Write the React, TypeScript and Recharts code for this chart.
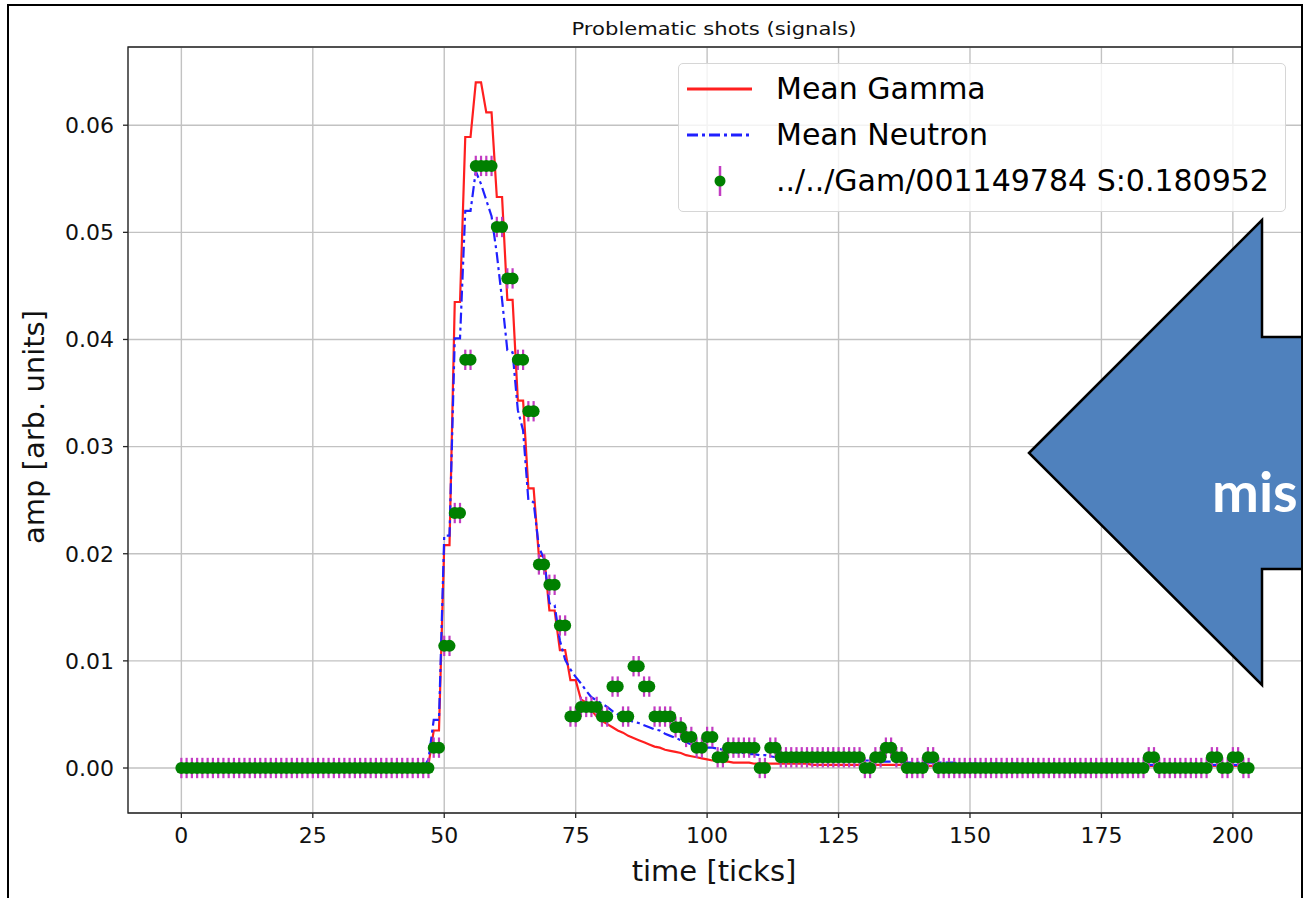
import {
  CartesianGrid,
  ComposedChart,
  ErrorBar,
  Label,
  Legend,
  Line,
  ReferenceArea,
  Scatter,
  XAxis,
  YAxis,
} from 'recharts';

// time axis is the sample index 0..203
const TIME_TICKS = [0, 25, 50, 75, 100, 125, 150, 175, 200];
const AMP_TICKS = [0, 0.01, 0.02, 0.03, 0.04, 0.05, 0.06];

const MEAN_GAMMA = [
  0, 0, 0, 0, 0, 0, 0, 0, 0, 0, 0, 0,
  0, 0, 0, 0, 0, 0, 0, 0, 0, 0, 0, 0,
  0, 0, 0, 0, 0, 0, 0, 0, 0, 0, 0, 0,
  0, 0, 0, 0, 0, 0, 0, 0, 0, 0, 0, 0.0003,
  0.0035, 0.0035, 0.0208, 0.0208, 0.0435, 0.0435, 0.0589, 0.0589, 0.064, 0.064, 0.0612, 0.0612,
  0.0533, 0.0533, 0.0437, 0.0437, 0.0343, 0.0343, 0.0261, 0.0261, 0.0198, 0.0198, 0.0147, 0.0147,
  0.011, 0.011, 0.0082, 0.0082, 0.0064, 0.0061, 0.0054, 0.0048, 0.0044, 0.0041, 0.0038, 0.0035,
  0.0033, 0.003, 0.0028, 0.0026, 0.0024, 0.0022, 0.002, 0.0019, 0.0017, 0.0016, 0.0015, 0.0014,
  0.0012, 0.0011, 0.001, 0.0009, 0.0008, 0.0007, 0.0007, 0.0006, 0.0006, 0.0005, 0.0005, 0.0005,
  0.0005, 0.0004, 0.0004, 0.0004, 0.0004, 0.0004, 0.0004, 0.0004, 0.0004, 0.0004, 0.0004, 0.0004,
  0.0003, 0.0003, 0.0003, 0.0003, 0.0003, 0.0003, 0.0003, 0.0003, 0.0003, 0.0003, 0.0003, 0.0003,
  0.0003, 0.0003, 0.0003, 0.0003, 0.0003, 0.0003, 0.0003, 0.0003, 0.0002, 0.0002, 0.0002, 0.0002,
  0.0002, 0.0002, 0.0002, 0.0002, 0.0002, 0.0002, 0.0002, 0.0002, 0.0002, 0.0002, 0.0002, 0.0002,
  0.0002, 0.0002, 0.0002, 0.0002, 0.0002, 0.0002, 0.0002, 0.0002, 0.0002, 0.0002, 0.0002, 0.0002,
  0.0002, 0.0002, 0.0002, 0.0002, 0.0002, 0.0002, 0.0002, 0.0002, 0.0002, 0.0002, 0.0002, 0.0002,
  0.0002, 0.0002, 0.0002, 0.0002, 0.0002, 0.0002, 0.0002, 0.0002, 0.0002, 0.0002, 0.0002, 0.0002,
  0.0002, 0.0002, 0.0002, 0.0002, 0.0002, 0.0002, 0.0002, 0.0002, 0.0002, 0.0002, 0.0002, 0.0002,
];

const MEAN_NEUTRON = [
  0, 0, 0, 0, 0, 0, 0, 0, 0, 0, 0, 0,
  0, 0, 0, 0, 0, 0, 0, 0, 0, 0, 0, 0,
  0, 0, 0, 0, 0, 0, 0, 0, 0, 0, 0, 0,
  0, 0, 0, 0, 0, 0, 0, 0, 0, 0, 0, 0.0008,
  0.0045, 0.0045, 0.0217, 0.0217, 0.0401, 0.0401, 0.052, 0.052, 0.0557, 0.0545, 0.053, 0.0515,
  0.048, 0.0437, 0.039, 0.0388, 0.0334, 0.0315, 0.025, 0.0248, 0.0206, 0.0195, 0.0154, 0.0152,
  0.0119, 0.0101, 0.0092, 0.0085, 0.0079, 0.0072, 0.0066, 0.0063, 0.006, 0.0057, 0.0053, 0.005,
  0.0048, 0.0045, 0.0043, 0.0042, 0.004, 0.0038, 0.0036, 0.0035, 0.0032, 0.003, 0.0028, 0.0026,
  0.0024, 0.0022, 0.0021, 0.002, 0.0019, 0.0019, 0.0018, 0.0017, 0.0016, 0.0015, 0.0014, 0.0014,
  0.0013, 0.0013, 0.0012, 0.0012, 0.0011, 0.001, 0.0009, 0.0009, 0.0009, 0.0008, 0.0008, 0.0008,
  0.0007, 0.0007, 0.0007, 0.0007, 0.0007, 0.0007, 0.0007, 0.0007, 0.0007, 0.0007, 0.0007, 0.0007,
  0.0006, 0.0006, 0.0006, 0.0006, 0.0006, 0.0006, 0.0005, 0.0005, 0.0005, 0.0005, 0.0005, 0.0005,
  0.0005, 0.0005, 0.0005, 0.0005, 0.0004, 0.0004, 0.0004, 0.0004, 0.0004, 0.0004, 0.0004, 0.0004,
  0.0004, 0.0004, 0.0004, 0.0004, 0.0003, 0.0003, 0.0003, 0.0003, 0.0003, 0.0003, 0.0003, 0.0003,
  0.0003, 0.0003, 0.0003, 0.0003, 0.0003, 0.0003, 0.0003, 0.0003, 0.0003, 0.0003, 0.0003, 0.0003,
  0.0003, 0.0003, 0.0003, 0.0003, 0.0003, 0.0003, 0.0003, 0.0003, 0.0003, 0.0003, 0.0003, 0.0003,
  0.0003, 0.0003, 0.0003, 0.0003, 0.0003, 0.0003, 0.0003, 0.0003, 0.0003, 0.0003, 0.0003, 0.0003,
];

// shot 001149784, digitised in steps of ~0.00095
const SHOT = [
  0, 0, 0, 0, 0, 0, 0, 0, 0, 0, 0, 0,
  0, 0, 0, 0, 0, 0, 0, 0, 0, 0, 0, 0,
  0, 0, 0, 0, 0, 0, 0, 0, 0, 0, 0, 0,
  0, 0, 0, 0, 0, 0, 0, 0, 0, 0, 0, 0,
  0.0019, 0.0019, 0.0114, 0.0114, 0.0238, 0.0238, 0.0381, 0.0381, 0.0562, 0.0562, 0.0562, 0.0562,
  0.0505, 0.0505, 0.0457, 0.0457, 0.0381, 0.0381, 0.0333, 0.0333, 0.019, 0.019, 0.0171, 0.0171,
  0.0133, 0.0133, 0.0048, 0.0048, 0.0057, 0.0057, 0.0057, 0.0057, 0.0048, 0.0048, 0.0076, 0.0076,
  0.0048, 0.0048, 0.0095, 0.0095, 0.0076, 0.0076, 0.0048, 0.0048, 0.0048, 0.0048, 0.0038, 0.0038,
  0.0029, 0.0029, 0.0019, 0.0019, 0.0029, 0.0029, 0.001, 0.001, 0.0019, 0.0019, 0.0019, 0.0019,
  0.0019, 0.0019, 0, 0, 0.0019, 0.0019, 0.001, 0.001, 0.001, 0.001, 0.001, 0.001,
  0.001, 0.001, 0.001, 0.001, 0.001, 0.001, 0.001, 0.001, 0.001, 0.001, 0, 0,
  0.001, 0.001, 0.0019, 0.0019, 0.001, 0.001, 0, 0, 0, 0, 0.001, 0.001,
  0, 0, 0, 0, 0, 0, 0, 0, 0, 0, 0, 0,
  0, 0, 0, 0, 0, 0, 0, 0, 0, 0, 0, 0,
  0, 0, 0, 0, 0, 0, 0, 0, 0, 0, 0, 0,
  0, 0, 0, 0, 0.001, 0.001, 0, 0, 0, 0, 0, 0,
  0, 0, 0, 0, 0.001, 0.001, 0, 0, 0.001, 0.001, 0, 0,
];
const SHOT_ERR = 0.00095;

const SERIES_NAMES = ['Mean Gamma', 'Mean Neutron', '../../Gam/001149784 S:0.180952'];

const GAMMA_COLOR = '#ff1f1f';
const NEUTRON_COLOR = '#2020ff';
const SHOT_COLOR = '#008000';
const ERR_COLOR = '#c23cc2';
const FONT = '"DejaVu Sans", sans-serif';

const rows = SHOT.map((shot, t) => ({
  t,
  gamma: MEAN_GAMMA[t],
  neutron: MEAN_NEUTRON[t],
  shot,
  err: SHOT_ERR,
}));

const X_DOMAIN: [number, number] = [-10.15, 213.15];
const Y_DOMAIN: [number, number] = [-0.0042, 0.0673];

function ShotDot(props: any) {
  if (props.cx == null || props.cy == null) return null;
  return <circle cx={props.cx} cy={props.cy} r={6} fill={SHOT_COLOR} />;
}

function LegendBox() {
  const handles = [
    <line key="g" x1={8} y1={23} x2={73} y2={23} stroke={GAMMA_COLOR} strokeWidth={3} />,
    <line
      key="n"
      x1={8}
      y1={23}
      x2={73}
      y2={23}
      stroke={NEUTRON_COLOR}
      strokeWidth={3}
      strokeDasharray="11 4 3 4"
    />,
    <g key="s">
      <line x1={41} y1={8} x2={41} y2={38} stroke={ERR_COLOR} strokeWidth={2.5} />
      <circle cx={41} cy={23} r={5.5} fill={SHOT_COLOR} />
    </g>,
  ];
  return (
    <div
      style={{
        boxSizing: 'border-box',
        width: 608,
        height: 149,
        padding: '2px 0 9px 0',
        background: 'rgba(255,255,255,0.8)',
        border: '1.5px solid #d6d6d6',
        borderRadius: 5,
        fontFamily: FONT,
        fontSize: 30,
        color: '#000',
      }}
    >
      {SERIES_NAMES.map((name, i) => (
        <div key={name} style={{ display: 'flex', alignItems: 'center', height: 46 }}>
          <svg width={97} height={46} style={{ flex: 'none' }}>
            {handles[i]}
          </svg>
          <span style={{ lineHeight: '46px', whiteSpace: 'nowrap' }}>{name}</span>
        </div>
      ))}
    </div>
  );
}

export default function App() {
  return (
    <div
      style={{
        position: 'absolute',
        left: 0,
        top: 0,
        width: 1303,
        height: 898,
        overflow: 'hidden',
        background: '#fff',
      }}
    >
      <ComposedChart
        width={1303}
        height={898}
        data={rows}
        margin={{ top: 47, right: 1, bottom: 35, left: 68 }}
      >
        <CartesianGrid stroke="#c2c2c2" strokeWidth={1.4} />
        <XAxis
          type="number"
          dataKey="t"
          domain={X_DOMAIN}
          allowDataOverflow
          ticks={TIME_TICKS}
          height={50}
          axisLine={false}
          tickSize={5}
          tickMargin={9}
          tickLine={{ stroke: '#262626', strokeWidth: 1.3 }}
          tick={{ fill: '#111', fontSize: 22, fontFamily: FONT }}
        >
          <Label
            content={() => (
              <text x={714} y={881} textAnchor="middle" fontSize={29} fontFamily={FONT} fill="#111">
                time [ticks]
              </text>
            )}
          />
          <Label
            content={() => (
              <text
                x={714}
                y={35}
                textAnchor="middle"
                fontSize={18}
                fontFamily={FONT}
                fill="#111"
                textLength={285}
                lengthAdjust="spacingAndGlyphs"
              >
                Problematic shots (signals)
              </text>
            )}
          />
        </XAxis>
        <YAxis
          type="number"
          domain={Y_DOMAIN}
          allowDataOverflow
          ticks={AMP_TICKS}
          width={60}
          axisLine={false}
          tickSize={5}
          tickMargin={9}
          tickLine={{ stroke: '#262626', strokeWidth: 1.3 }}
          tick={{ fill: '#111', fontSize: 22, fontFamily: FONT }}
          tickFormatter={(v: number) => v.toFixed(2)}
        >
          <Label
            content={() => (
              <text
                x={44}
                y={427}
                transform="rotate(-90 44 427)"
                textAnchor="middle"
                fontSize={29}
                fontFamily={FONT}
                fill="#111"
              >
                amp [arb. units]
              </text>
            )}
          />
        </YAxis>
        <ReferenceArea
          x1={X_DOMAIN[0]}
          x2={X_DOMAIN[1]}
          y1={Y_DOMAIN[0]}
          y2={Y_DOMAIN[1]}
          ifOverflow="visible"
          fill="none"
          stroke="#262626"
          strokeWidth={1.3}
        />
        <Line
          type="linear"
          dataKey="gamma"
          name={SERIES_NAMES[0]}
          stroke={GAMMA_COLOR}
          strokeWidth={2.2}
          dot={false}
          activeDot={false}
          isAnimationActive={false}
        />
        <Line
          type="linear"
          dataKey="neutron"
          name={SERIES_NAMES[1]}
          stroke={NEUTRON_COLOR}
          strokeWidth={2.2}
          strokeDasharray="11 4 3 4"
          dot={false}
          activeDot={false}
          isAnimationActive={false}
        />
        <Scatter
          data={rows}
          dataKey="shot"
          name={SERIES_NAMES[2]}
          shape={ShotDot}
          isAnimationActive={false}
        >
          <ErrorBar dataKey="err" direction="y" width={0} stroke={ERR_COLOR} strokeWidth={2.2} isAnimationActive={false} />
        </Scatter>
        <Legend
          layout="vertical"
          align="center"
          verticalAlign="middle"
          wrapperStyle={{ left: 678, top: 63, width: 608, height: 149 }}
          content={() => <LegendBox />}
        />
      </ComposedChart>

      {/* slide annotation arrow pasted over the figure */}
      <svg
        width={1303}
        height={898}
        style={{ position: 'absolute', left: 0, top: 0, pointerEvents: 'none' }}
      >
        <polygon
          points="1029,453 1262,220 1262,337 1312,337 1312,569 1262,569 1262,685"
          fill="#4f81bd"
          stroke="#000"
          strokeWidth={2.5}
          strokeLinejoin="miter"
        />
        <text
          x={1212}
          y={512}
          fill="#fff"
          fontSize={56}
          fontWeight={700}
          fontFamily="Lato, 'Open Sans', sans-serif"
        >
          mis
        </text>
      </svg>
      <div
        style={{
          position: 'absolute',
          left: 7,
          top: 4,
          width: 1296,
          height: 910,
          boxSizing: 'border-box',
          border: '2px solid #000',
          pointerEvents: 'none',
        }}
      />
    </div>
  );
}
